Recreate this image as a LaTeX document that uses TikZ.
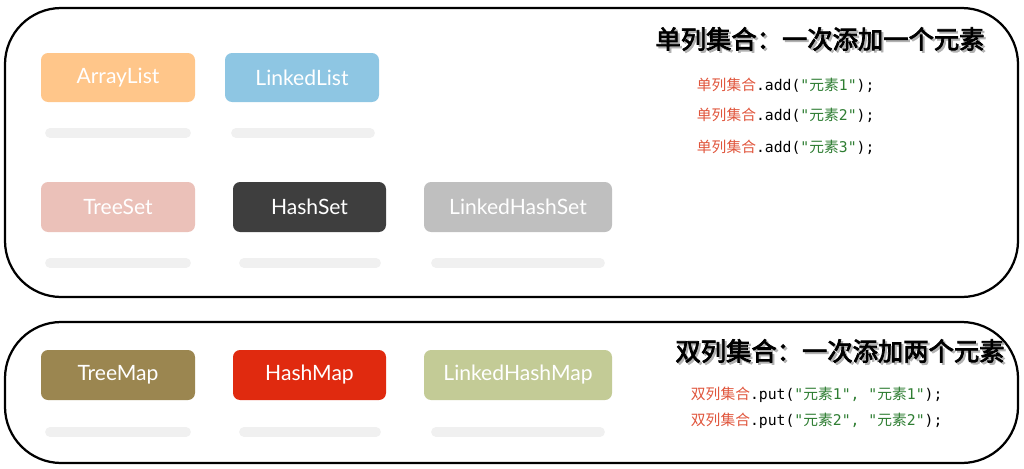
\documentclass[tikz,border=0pt]{standalone}
\usepackage{fontspec}
\setmainfont{Lato}
\newfontfamily\cjk{Noto Sans CJK SC}
\newfontfamily\cjkb{Noto Sans CJK SC}[FakeBold=3]
\newfontfamily\mono{DejaVu Sans Mono}
\definecolor{cr}{HTML}{E0553C}
\definecolor{cg}{HTML}{2E7D32}
\definecolor{c1}{HTML}{FFC68A}\definecolor{c2}{HTML}{8EC6E3}\definecolor{c3}{HTML}{EBC1B9}
\definecolor{c4}{HTML}{3E3E3E}\definecolor{c5}{HTML}{BFBFBF}\definecolor{c6}{HTML}{9B8650}
\definecolor{c7}{HTML}{E02A0F}\definecolor{c8}{HTML}{C3CB96}
\begin{document}
\begin{tikzpicture}[x=0.025cm,y=-0.025cm,
 frame/.style={draw=black,line width=1.6pt,rounded corners=40},
 cbox/.style={rounded corners=5,fill=#1},
 lbl/.style={white,font=\fontsize{15}{18}\selectfont},
 shadowbar/.style={line width=7pt,line cap=round,draw=gray!12},
 code/.style={anchor=west,font=\fontsize{10.5}{12}\selectfont},
 ttl/.style={font=\cjkb\fontsize{18}{22}\selectfont}]
\useasboundingbox (0,0) rectangle (1024,468);
\draw[frame] (5,8) rectangle (1018,297);
\draw[frame] (5,322) rectangle (1018,463);
\foreach \n/\a/\b/\c/\d/\col/\t in {al/41/53/195/102/c1/ArrayList, ll/225/53/379/102/c2/LinkedList,
 ts/41/182/195/232/c3/TreeSet, hs/233/182/386/232/c4/HashSet, lhs/424/182/612/232/c5/LinkedHashSet,
 tm/41/350/195/400/c6/TreeMap, hm/233/350/386/400/c7/HashMap, lhm/424/350/612/400/c8/LinkedHashMap}{
 \fill[cbox=\col] (\a,\b) rectangle (\c,\d);
 \node[lbl] (\n) at ({(\a+\c)/2},{(\b+\d)/2}) {\t};
}
\foreach \a/\c/\y in {50/186/133,236/370/133,50/186/263,244/376/263,436/600/263,50/186/432,244/376/432,436/600/432}
 \draw[shadowbar] (\a,\y) -- (\c,\y);
\node[ttl,gray!60] at (822,41) {单列集合：一次添加一个元素};
\node[ttl] (t1) at (820,39) {单列集合：一次添加一个元素};
\node[ttl,gray!60] at (842,353) {双列集合：一次添加两个元素};
\node[ttl] (t2) at (840,351) {双列集合：一次添加两个元素};
\foreach \y/\k in {85/1,115/2,147/3}
 \node[code] at (692,\y) {\color{cr}\cjk 单列集合\color{black}\mono .add(\color{cg}"\cjk 元素\mono\k"\color{black});};
\foreach \y/\k in {395/1,421/2}
 \node[code] at (686,\y) {\color{cr}\cjk 双列集合\color{black}\mono .put(\color{cg}"\cjk 元素\mono\k", "\cjk 元素\mono\k"\color{black});};
\end{tikzpicture}
\end{document}
